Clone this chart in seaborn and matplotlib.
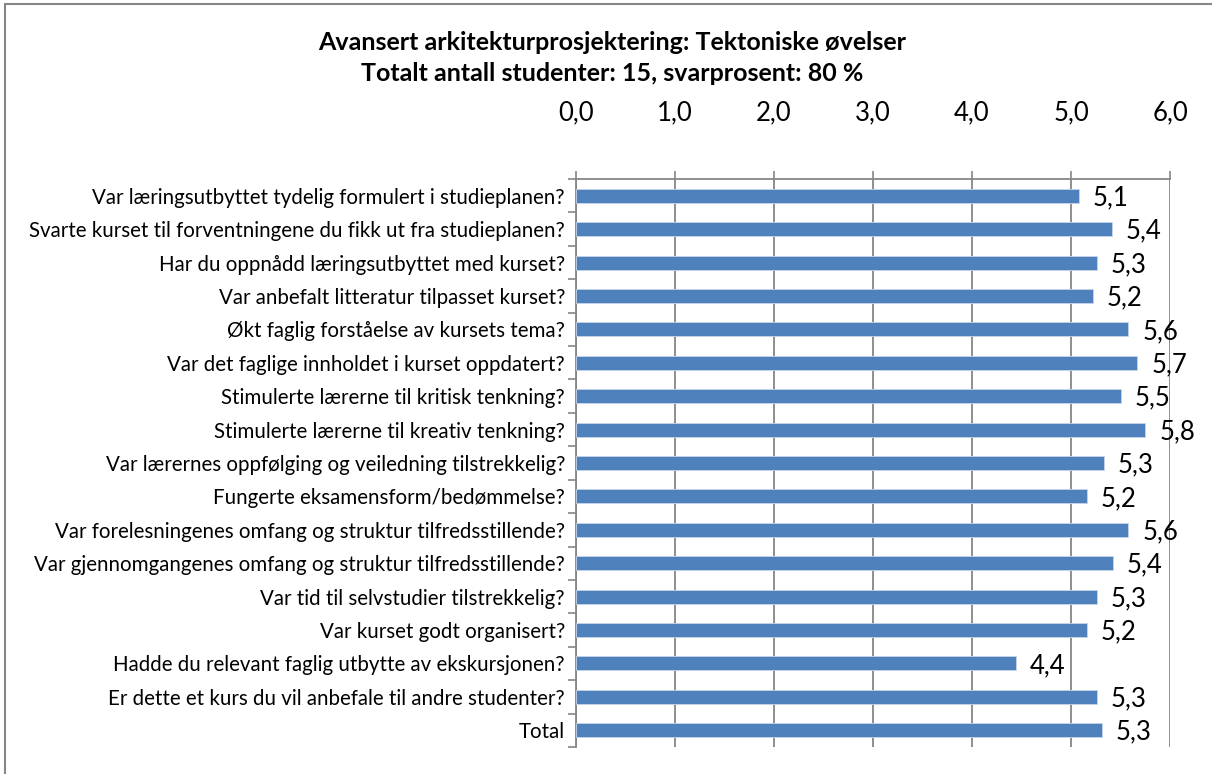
import matplotlib
matplotlib.use("Agg")
import matplotlib.pyplot as plt
from matplotlib.patches import Rectangle
from matplotlib.ticker import FixedLocator
import pandas as pd
import seaborn as sns

questions = [
    "Var læringsutbyttet tydelig formulert i studieplanen?",
    "Svarte kurset til forventningene du fikk ut fra studieplanen?",
    "Har du oppnådd læringsutbyttet med kurset?",
    "Var anbefalt litteratur tilpasset kurset?",
    "Økt faglig forståelse av kursets tema?",
    "Var det faglige innholdet i kurset oppdatert?",
    "Stimulerte lærerne til kritisk tenkning?",
    "Stimulerte lærerne til kreativ tenkning?",
    "Var lærernes oppfølging og veiledning tilstrekkelig?",
    "Fungerte eksamensform/bedømmelse?",
    "Var forelesningenes omfang og struktur tilfredsstillende?",
    "Var gjennomgangenes omfang og struktur tilfredsstillende?",
    "Var tid til selvstudier tilstrekkelig?",
    "Var kurset godt organisert?",
    "Hadde du relevant faglig utbytte av ekskursjonen?",
    "Er dette et kurs du vil anbefale til andre studenter?",
    "Total",
]
scores = [5.08, 5.41, 5.26, 5.22, 5.58, 5.67, 5.50, 5.75, 5.33, 5.16,
          5.58, 5.42, 5.26, 5.16, 4.44, 5.26, 5.31]
x_ticks = [0, 1, 2, 3, 4, 5, 6]

title = ("Avansert arkitekturprosjektering: Tektoniske øvelser\n"
         "Totalt antall studenter: 15, svarprosent: 80 %")

df = pd.DataFrame({"question": questions, "score": scores})

sns.set_style("white")
plt.rcParams["font.family"] = ["Lato", "DejaVu Sans"]
plt.rcParams["text.color"] = "black"
plt.rcParams["xtick.labelcolor"] = "black"
plt.rcParams["ytick.labelcolor"] = "black"

fig = plt.figure(figsize=(12.12, 7.74), dpi=100)
ax = fig.add_axes([576 / 1212, 1 - 747 / 774, (1170 - 576) / 1212, (747 - 179) / 774])

sns.barplot(data=df, x="score", y="question", orient="h", color="#4F81BD",
            saturation=1, width=0.42, edgecolor="#c6d5ea", linewidth=0.6,
            ax=ax, zorder=3)

ax.set_xlim(0, 6)
ax.set_ylim(len(questions) - 0.5, -0.5)
ax.xaxis.tick_top()
ax.set_xticks(x_ticks)
ax.set_xticklabels([f"{v:.1f}".replace(".", ",") for v in x_ticks])
ax.tick_params(axis="x", which="major", length=6, width=1.2, color="#868686",
               pad=33, labelsize=18.5, direction="out")
ax.tick_params(axis="y", which="major", length=0, pad=8, labelsize=14.8)
ax.yaxis.set_minor_locator(FixedLocator([i - 0.5 for i in range(len(questions) + 1)]))
ax.tick_params(axis="y", which="minor", length=6, width=1.2, color="#868686",
               direction="out", left=True)
ax.grid(axis="x", color="#868686", linewidth=1.3, zorder=0)
ax.grid(axis="y", visible=False)
ax.set_xlabel("")
ax.set_ylabel("")

for side in ["right", "bottom"]:
    ax.spines[side].set_visible(False)
for side in ["top", "left"]:
    ax.spines[side].set_color("#868686")
    ax.spines[side].set_linewidth(1.3)

for i, v in enumerate(scores):
    ax.annotate(f"{v:.1f}".replace(".", ","), xy=(v, i), xytext=(14, -2),
                textcoords="offset pixels", va="center", ha="left",
                fontsize=18.5, color="black")

fig.text(0.505, 1 - 58 / 774, title, ha="center", va="center",
         fontsize=18, fontweight="bold", linespacing=1.42)

fig.add_artist(Rectangle((5 / 1212, -0.01), 1.2, 1 - 4 / 774 + 0.01,
                         transform=fig.transFigure, fill=False,
                         edgecolor="#868686", linewidth=1.5))

fig.savefig("out.png", dpi=100)
